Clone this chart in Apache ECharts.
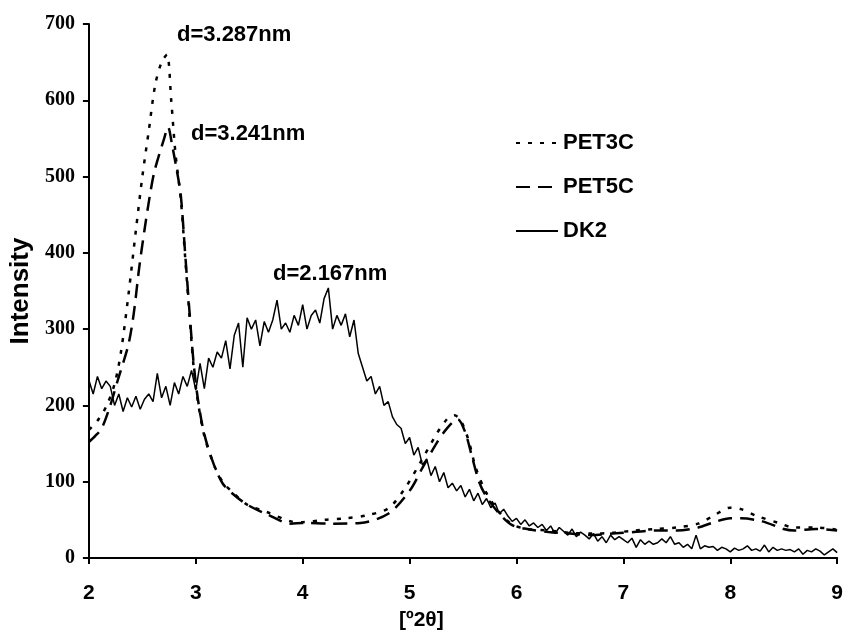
<!DOCTYPE html>
<html>
<head>
<meta charset="utf-8">
<script src="https://cdn.jsdelivr.net/npm/echarts@6/dist/echarts.min.js"></script>
<style>
html, body { margin: 0; padding: 0; background: #fff; }
#chart { width: 846px; height: 636px; }
</style>
</head>
<body>
<div id="chart"></div>
<script>
// PET3C and PET5C as [2theta, intensity]
var pet3c = [
	[2.00, 168], [2.08, 180], [2.16, 198], [2.24, 228], [2.30, 270], [2.37, 345],
	[2.44, 430], [2.50, 500], [2.56, 560], [2.62, 620], [2.68, 650], [2.73, 660],
	[2.77, 600], [2.81, 530], [2.86, 470], [2.90, 395], [2.94, 320], [2.98, 250],
	[3.02, 205], [3.08, 160], [3.17, 122], [3.25, 100], [3.33, 88], [3.48, 70],
	[3.67, 60], [3.89, 48], [4.00, 47], [4.20, 50], [4.40, 52], [4.60, 56],
	[4.80, 65], [4.95, 90], [5.10, 125], [5.25, 162], [5.35, 182], [5.42, 187],
	[5.48, 180], [5.55, 155], [5.62, 118], [5.72, 85], [5.84, 60], [5.96, 44],
	[6.10, 38], [6.30, 36], [6.50, 33], [6.70, 32], [6.90, 33], [7.10, 36],
	[7.30, 38], [7.50, 40], [7.70, 45], [7.85, 56], [8.00, 66], [8.10, 64],
	[8.25, 55], [8.45, 46], [8.60, 40], [8.80, 40], [9.00, 37]
];
var pet5c = [
	[2.00, 152], [2.06, 160], [2.12, 170], [2.20, 200], [2.27, 233], [2.37, 280],
	[2.42, 321], [2.47, 380], [2.52, 430], [2.57, 475], [2.61, 505], [2.66, 530],
	[2.70, 548], [2.74, 565], [2.78, 540], [2.82, 510], [2.86, 475], [2.90, 400],
	[2.94, 325], [2.98, 255], [3.02, 208], [3.08, 162], [3.17, 122], [3.25, 98],
	[3.33, 86], [3.48, 70], [3.67, 57], [3.89, 45], [4.00, 46], [4.26, 45],
	[4.54, 46], [4.80, 58], [5.00, 88], [5.12, 118], [5.25, 150], [5.35, 170],
	[5.45, 182], [5.52, 165], [5.58, 135], [5.65, 100], [5.72, 80], [5.84, 58],
	[5.96, 43], [6.10, 38], [6.30, 34], [6.50, 32], [6.70, 30], [6.90, 32],
	[7.10, 34], [7.30, 36], [7.50, 36], [7.70, 40], [7.85, 47], [8.00, 52],
	[8.10, 52], [8.30, 48], [8.50, 38], [8.60, 36], [8.80, 38], [9.00, 36]
];
// DK2 is sampled every 0.04 deg from 2.00 to 9.00
var dk2Start = 2.0;
var dk2Step = 0.04;
var dk2Values = [
	233, 215, 238, 222, 232, 225,
	200, 215, 192, 210, 198, 212, 195, 208, 215, 205,
	242, 210, 225, 200, 230, 215, 238, 225, 246, 220,
	255, 222, 262, 250, 270, 262, 285, 248, 292, 308,
	250, 315, 300, 312, 278, 310, 296, 312, 338, 300,
	308, 296, 318, 305, 332, 300, 318, 325, 308, 340,
	354, 300, 318, 305, 320, 290, 312, 268, 250, 232,
	238, 215, 225, 200, 205, 185, 175, 170, 150, 158,
	135, 145, 122, 130, 108, 120, 100, 112, 92, 98,
	88, 95, 80, 90, 75, 85, 70, 78, 66, 72,
	58, 64, 55, 48, 52, 44, 50, 42, 46, 40,
	44, 36, 42, 32, 40, 35, 30, 38, 28, 34,
	30, 25, 32, 22, 28, 20, 30, 24, 28, 24,
	20, 26, 14, 24, 18, 22, 18, 20, 25, 20,
	28, 18, 20, 14, 18, 12, 30, 12, 16, 14,
	15, 10, 14, 12, 8, 13, 10, 12, 16, 10,
	12, 9, 17, 8, 14, 10, 12, 10, 11, 8,
	12, 5, 10, 8, 12, 9, 4, 8, 12, 7
];
var peakLabels = ['d=3.287nm', 'd=3.241nm', 'd=2.167nm'];

var dk2 = [];
for (var i = 0; i < dk2Values.length; i++) {
	dk2.push([+(dk2Start + i * dk2Step).toFixed(2), dk2Values[i]]);
}

var chart = echarts.init(document.getElementById('chart'));
var sans = 'Liberation Sans, Arial, sans-serif';
var labelFont = 'bold 22px "Liberation Sans", Arial, sans-serif';

chart.setOption({
	animation: false,
	grid: {left: 87, right: 7, top: 24, bottom: 78},
	legend: {
		orient: 'vertical',
		left: 510,
		top: 127,
		itemWidth: 42,
		itemHeight: 14,
		itemGap: 22,
		itemStyle: {opacity: 0},
		textStyle: {fontFamily: sans, fontWeight: 'bold', fontSize: 22, color: '#000'},
		data: ['PET3C', 'PET5C', 'DK2']
	},
	xAxis: {
		type: 'value',
		min: 2,
		max: 9,
		interval: 1,
		axisLine: {lineStyle: {color: '#000', width: 2}},
		axisTick: {length: 6, lineStyle: {color: '#000', width: 2}},
		axisLabel: {fontFamily: sans, fontWeight: 'bold', fontSize: 21, color: '#000', margin: 25},
		splitLine: {show: false}
	},
	yAxis: {
		type: 'value',
		min: 0,
		max: 700,
		interval: 100,
		name: 'Intensity',
		nameLocation: 'middle',
		nameGap: 52,
		nameTextStyle: {fontFamily: sans, fontWeight: 'bold', fontSize: 26, color: '#000'},
		axisLine: {show: true, lineStyle: {color: '#000', width: 2}},
		axisTick: {show: true, length: 6, lineStyle: {color: '#000', width: 2}},
		axisLabel: {fontFamily: 'Liberation Serif, Times New Roman, serif', fontWeight: 'bold', fontSize: 20, color: '#000', margin: 14},
		splitLine: {show: false}
	},
	series: [
		{
			name: 'PET3C',
			type: 'line',
			data: pet3c,
			symbol: 'none',
			smooth: 0.3,
			lineStyle: {color: '#000', width: 2.5, type: [4, 8]},
			itemStyle: {color: '#000'}
		},
		{
			name: 'PET5C',
			type: 'line',
			data: pet5c,
			symbol: 'none',
			smooth: 0.3,
			lineStyle: {color: '#000', width: 2.5, type: [14, 8]},
			itemStyle: {color: '#000'}
		},
		{
			name: 'DK2',
			type: 'line',
			data: dk2,
			symbol: 'none',
			lineStyle: {color: '#000', width: 1.5},
			itemStyle: {color: '#000'}
		}
	],
	graphic: [
		{type: 'text', left: 177, top: 24, style: {text: peakLabels[0], font: labelFont, fill: '#000'}},
		{type: 'text', left: 191, top: 123, style: {text: peakLabels[1], font: labelFont, fill: '#000'}},
		{type: 'text', left: 273, top: 263, style: {text: peakLabels[2], font: labelFont, fill: '#000'}},
		{type: 'text', left: 399, top: 610, style: {text: '[º2θ]', font: 'bold 21px "Liberation Sans", Arial, sans-serif', fill: '#000'}}
	]
});
</script>
</body>
</html>
